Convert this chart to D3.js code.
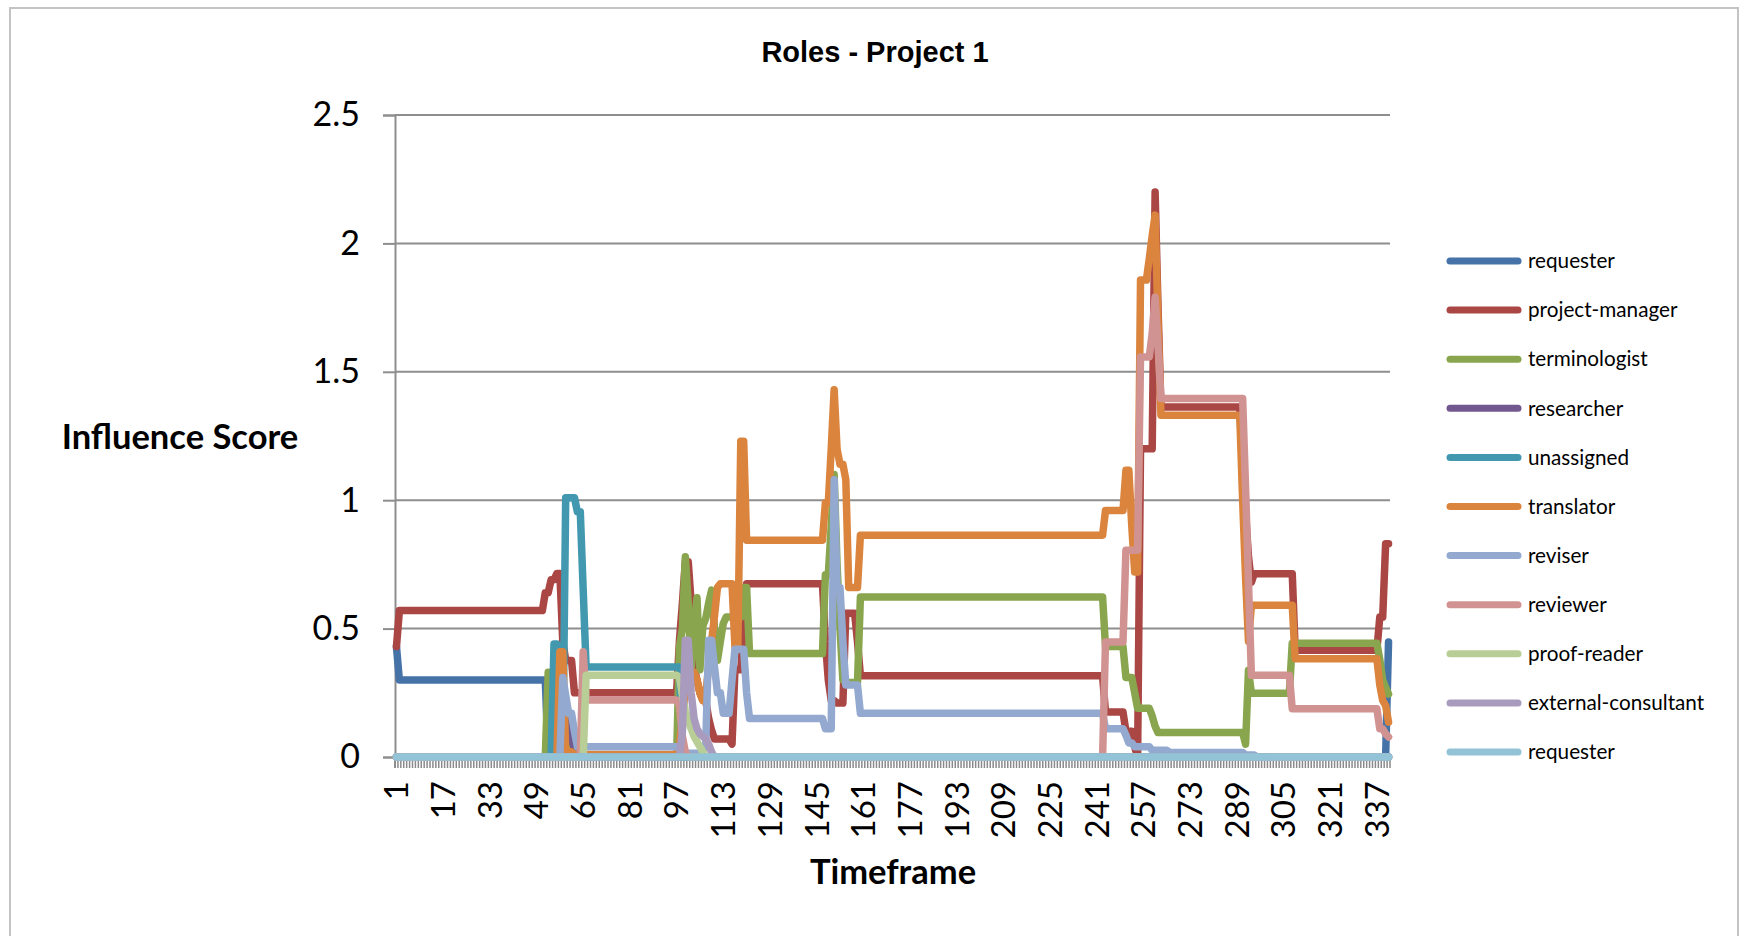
<!DOCTYPE html>
<html>
<head>
<meta charset="utf-8">
<script src="https://cdn.jsdelivr.net/npm/d3@7"></script>
<style>
  body { margin: 0; background: #ffffff; }
  svg { display: block; }
</style>
</head>
<body>
<svg id="chart" width="1742" height="936"></svg>
<script>
// ---- data -------------------------------------------------------------
const timeframeCount = 341;
const xTickLabels = [1, 17, 33, 49, 65, 81, 97, 113, 129, 145, 161, 177, 193, 209, 225, 241, 257, 273, 289, 305, 321, 337];
const yTicks = [0, 0.5, 1, 1.5, 2, 2.5];

const seriesNames = ["requester", "project-manager", "terminologist", "researcher", "unassigned",
  "translator", "reviser", "reviewer", "proof-reader", "external-consultant", "requester"];
const seriesColors = ["#4572A7", "#AA4643", "#89A54E", "#71588F", "#4198AF",
  "#DB843D", "#93A9CF", "#D19392", "#B9CD96", "#A99BBD", "#92C3D6"];

// Each series is a list of [timeframe, score]; a score holds until the next listed timeframe.
const requester = [[1, 0.43], [2, 0.30], [53, 0], [60, 0.04], [62, 0], [341, 0.448]];
const projectManager = [[1, 0.43], [2, 0.57], [52, 0.64], [54, 0.69], [56, 0.715], [58, 0.45], [59, 0.376], [62, 0.25],
  [98, 0.455], [99, 0.6], [100, 0.76], [102, 0.6], [103, 0.35], [104, 0.3], [105, 0.25], [106, 0.22], [108, 0.15],
  [109, 0.104], [110, 0.07], [116, 0.05], [117, 0.34], [120, 0.5], [121, 0.675],
  [148, 0.45], [149, 0.3], [150, 0.22], [152, 0.21], [155, 0.56], [159, 0.45], [160, 0.316],
  [244, 0.175], [251, 0.1], [254, 0.04], [255, 0], [256, 1.2], [261, 2.2], [262, 1.75], [263, 1.363],
  [291, 1.15], [292, 0.95], [293, 0.78], [294, 0.68], [295, 0.714], [309, 0.416], [338, 0.545], [340, 0.83]];
const terminologist = [[1, 0], [53, 0.33], [54, 0.25], [55, 0.2], [56, 0.15], [57, 0.12], [58, 0.1], [59, 0.09],
  [60, 0.08], [61, 0.06], [62, 0],
  [98, 0.43], [99, 0.5], [100, 0.78], [101, 0.6], [102, 0.34], [103, 0.5], [104, 0.62], [105, 0.34], [106, 0.51],
  [107, 0.54], [108, 0.6], [109, 0.65], [110, 0.5], [111, 0.376], [112, 0.45], [113, 0.52], [114, 0.545],
  [120, 0.66], [122, 0.403],
  [148, 0.71], [150, 0.9], [151, 1.1], [152, 0.75], [153, 0.5], [154, 0.3], [155, 0.29], [160, 0.623],
  [244, 0.43], [251, 0.31], [254, 0.25], [255, 0.19], [260, 0.16], [261, 0.12], [262, 0.095],
  [292, 0.05], [293, 0.338], [294, 0.248], [308, 0.443], [338, 0.38], [339, 0.3], [340, 0.27], [341, 0.245]];
const researcher = [[1, 0], [59, 0.05], [60, 0.14], [61, 0.08], [62, 0.03], [63, 0]];
const unassigned = [[1, 0], [55, 0.44], [57, 0.1], [58, 0], [59, 1.01], [63, 0.955], [65, 0.65], [66, 0.35], [99, 0]];
const translator = [[1, 0], [57, 0.41], [59, 0.02], [62, 0.01],
  [98, 0.05], [99, 0.15], [100, 0.25], [101, 0.3], [103, 0.33], [104, 0.3], [105, 0.25], [106, 0.22], [107, 0.25],
  [108, 0.35], [109, 0.45], [110, 0.55], [111, 0.66], [112, 0.675], [117, 0.43], [119, 1.23], [121, 0.844],
  [148, 0.99], [150, 1.2], [151, 1.43], [152, 1.2], [153, 1.14], [155, 1.08], [156, 0.66], [160, 0.864],
  [244, 0.96], [251, 1.117], [253, 0.9], [254, 0.72], [256, 1.857], [259, 1.94], [260, 2.03], [261, 2.11],
  [262, 1.7], [263, 1.331], [291, 1.0], [292, 0.7], [293, 0.45], [294, 0.591], [309, 0.383],
  [338, 0.28], [339, 0.22], [340, 0.2], [341, 0.136]];
const reviser = [[1, 0], [58, 0.31], [59, 0.24], [60, 0.17], [62, 0.1], [63, 0.04], [99, 0.03], [100, 0.015],
  [107, 0.05], [108, 0.455], [110, 0.35], [111, 0.25], [113, 0.17], [116, 0.3], [117, 0.42], [121, 0.25], [122, 0.15],
  [148, 0.11], [151, 1.08], [152, 0.66], [154, 0.45], [155, 0.28], [160, 0.17],
  [244, 0.11], [251, 0.085], [252, 0.055], [254, 0.04], [260, 0.026], [266, 0.018], [292, 0.008], [296, 0]];
const reviewer = [[1, 0], [65, 0.41], [66, 0.222], [98, 0.2], [99, 0.08], [100, 0.02], [101, 0],
  [244, 0.448], [251, 0.805], [256, 1.558], [260, 1.65], [261, 1.79], [262, 1.6], [263, 1.396],
  [292, 1.05], [293, 0.68], [294, 0.318], [308, 0.188], [338, 0.11], [340, 0.09], [341, 0.078]];
const proofReader = [[1, 0], [66, 0.318], [98, 0.31], [99, 0.24], [100, 0.18], [101, 0.14], [102, 0.11],
  [103, 0.08], [104, 0.06], [105, 0.04], [106, 0.02], [107, 0]];
const externalConsultant = [[1, 0], [99, 0.1], [100, 0.455], [102, 0.25], [103, 0.15], [104, 0.11], [105, 0.09],
  [106, 0.08], [107, 0.07], [108, 0.05], [109, 0.02], [110, 0]];
const requesterSecond = [[1, 0]];

const seriesRuns = [requester, projectManager, terminologist, researcher, unassigned,
  translator, reviser, reviewer, proofReader, externalConsultant, requesterSecond];

// ---- layout -----------------------------------------------------------
const plot = { left: 395, right: 1390, top: 115, bottom: 757 };
const labelFont = "Lato, 'Open Sans', 'Noto Sans', sans-serif";

const timeframes = d3.range(1, timeframeCount + 1);

// expand each run list to one score per timeframe
function expandRuns(runs) {
  let k = 0;
  return timeframes.map(t => {
    while (k + 1 < runs.length && runs[k + 1][0] <= t) k++;
    return { t: t, v: runs[k][1] };
  });
}
const seriesData = seriesRuns.map(expandRuns);

const svg = d3.select("#chart");

// chart area frame
svg.append("rect")
  .attr("x", 10).attr("y", 8).attr("width", 1728).attr("height", 960)
  .attr("fill", "#ffffff").attr("stroke", "#c4c4c4").attr("stroke-width", 2);

const x = d3.scaleBand().domain(timeframes).range([plot.left, plot.right]).paddingInner(0).paddingOuter(0);
const xc = t => x(t) + x.bandwidth() / 2;
const y = d3.scaleLinear().domain([0, 2.5]).range([plot.bottom, plot.top]);

// horizontal gridlines
svg.append("g").selectAll("line").data(yTicks).join("line")
  .attr("x1", plot.left).attr("x2", plot.right)
  .attr("y1", d => y(d)).attr("y2", d => y(d))
  .attr("stroke", "#8e8e8e").attr("stroke-width", 2);

// value axis
const yAxis = svg.append("g").attr("transform", `translate(${plot.left},0)`)
  .call(d3.axisLeft(y).tickValues(yTicks).tickSize(12).tickPadding(23).tickFormat(d => String(d)));
yAxis.select(".domain").attr("stroke", "#8e8e8e").attr("stroke-width", 2);
yAxis.selectAll(".tick line").attr("stroke", "#8e8e8e").attr("stroke-width", 2);
yAxis.selectAll(".tick text").attr("font-family", labelFont).attr("font-size", 34).attr("fill", "#000");

// category tick marks (one per timeframe boundary)
const boundaries = timeframes.map(t => x(t)).concat([plot.right]);
svg.append("g").selectAll("line").data(boundaries).join("line")
  .attr("x1", d => d).attr("x2", d => d)
  .attr("y1", plot.bottom).attr("y2", plot.bottom + 11)
  .attr("stroke", "#8a8a8a").attr("stroke-width", 1.5);
svg.append("line")
  .attr("x1", plot.left).attr("x2", plot.left).attr("y1", plot.bottom).attr("y2", plot.bottom + 11)
  .attr("stroke", "#8e8e8e").attr("stroke-width", 2);

// category labels, rotated
const xAxis = svg.append("g").attr("transform", `translate(0,${plot.bottom})`)
  .call(d3.axisBottom(x).tickValues(xTickLabels).tickSize(0).tickPadding(0));
xAxis.select(".domain").remove();
xAxis.selectAll(".tick text")
  .attr("font-family", labelFont).attr("font-size", 33).attr("fill", "#000")
  .attr("text-anchor", "end")
  .attr("transform", "translate(0,24) rotate(-90)")
  .attr("x", 0).attr("y", 0).attr("dy", "0.36em");

// series lines
const line = d3.line().x(d => xc(d.t)).y(d => y(d.v));
svg.append("g").selectAll("path").data(seriesData).join("path")
  .attr("d", line)
  .attr("fill", "none")
  .attr("stroke", (d, i) => seriesColors[i])
  .attr("stroke-width", 7.5)
  .attr("stroke-linejoin", "round")
  .attr("stroke-linecap", "round");

// titles
svg.append("text").attr("x", 875).attr("y", 62)
  .attr("text-anchor", "middle")
  .attr("font-family", "'Liberation Sans Narrow', 'Arial Narrow', 'Liberation Sans', sans-serif")
  .attr("font-weight", "bold").attr("font-size", 29).attr("fill", "#000")
  .text("Roles - Project 1");

svg.append("text").attr("x", 180).attr("y", 449)
  .attr("text-anchor", "middle")
  .attr("font-family", labelFont).attr("font-weight", "bold").attr("font-size", 34.5).attr("fill", "#000")
  .text("Influence Score");

svg.append("text").attr("x", 893).attr("y", 884)
  .attr("text-anchor", "middle")
  .attr("font-family", labelFont).attr("font-weight", "bold").attr("font-size", 34.5).attr("fill", "#000")
  .text("Timeframe");

// legend
const legend = svg.append("g").selectAll("g").data(seriesNames).join("g")
  .attr("transform", (d, i) => `translate(0,${261 + i * 49.1})`);
legend.append("line")
  .attr("x1", 1450).attr("x2", 1518).attr("y1", 0).attr("y2", 0)
  .attr("stroke", (d, i) => seriesColors[i]).attr("stroke-width", 7).attr("stroke-linecap", "round");
legend.append("text")
  .attr("x", 1528).attr("y", 0).attr("dy", "0.35em")
  .attr("font-family", labelFont).attr("font-size", 20.7).attr("fill", "#000")
  .text(d => d);
</script>
</body>
</html>
